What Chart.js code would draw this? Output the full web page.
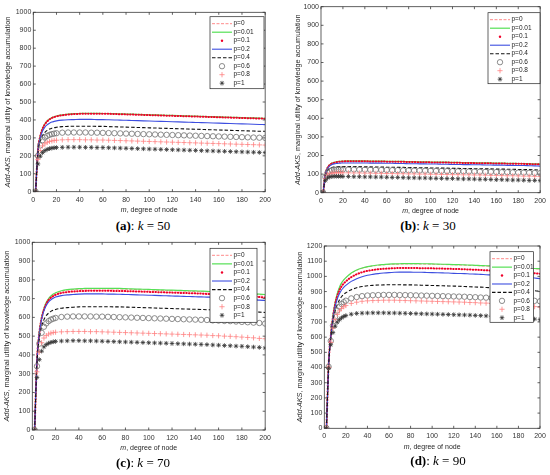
<!DOCTYPE html>
<html>
<head>
<meta charset="utf-8">
<script src="https://cdn.jsdelivr.net/npm/chart.js@4.4.1/dist/chart.umd.min.js"></script>
<style>
body { margin: 0; background: #fff; width: 550px; height: 475px; position: relative; overflow: hidden; }
.panel { position: absolute; }
.cap { position: absolute; font-family: "Liberation Serif", "Times New Roman", serif; font-size: 13px; color: #000; white-space: nowrap; transform: translateX(-50%); }
</style>
</head>
<body>
<div class="panel" style="left:0;top:0;width:275px;height:218px"><canvas id="ca"></canvas></div>
<div class="panel" style="left:275px;top:0;width:275px;height:218px"><canvas id="cb"></canvas></div>
<div class="panel" style="left:0;top:235px;width:275px;height:222px"><canvas id="cc"></canvas></div>
<div class="panel" style="left:275px;top:235px;width:275px;height:222px"><canvas id="cd"></canvas></div>
<div class="cap" style="left:143px;top:218px"><b>(a)</b>: <i>k</i> = 50</div>
<div class="cap" style="left:428px;top:218px"><b>(b)</b>: <i>k</i> = 30</div>
<div class="cap" style="left:143px;top:455px"><b>(c)</b>: <i>k</i> = 70</div>
<div class="cap" style="left:438px;top:453px"><b>(d)</b>: <i>k</i> = 90</div>
<script>
// m, degree of node
const m = [2,4,6,8,10,12,14,16,18,20,25,30,35,40,45,50,55,60,65,70,75,80,85,90,95,100,105,110,115,120,125,130,135,140,145,150,155,160,165,170,175,180,185,190,195,200];
const labels = ['p=0','p=0.01','p=0.1','p=0.2','p=0.4','p=0.6','p=0.8','p=1'];

// (a) k = 50
const k50_p0   = [0,232,310,352,377,393,404,412,417,421, 427,431,434,435,436,436,436,435,435,434, 433,432,431,430,429,428,427,426,425,424, 423,422,421,420,419,418,417,416,415,414, 413,412,411,410,409,408];
const k50_p001 = [0,233,311,353,378,394,405,413,418,422, 428,432,435,436,437,437,437,436,436,435, 434,433,432,431,430,429,428,427,426,425, 424,423,422,421,420,419,418,417,416,415, 414,413,412,411,410,409];
const k50_p01  = [0,231,309,351,376,392,403,411,416,420, 426,430,433,434,435,435,435,434,434,433, 432,431,430,429,428,427,426,425,424,423, 422,421,420,419,418,417,416,415,414,413, 412,411,410,409,408,407];
const k50_p02  = [0,228,300,338,360,373,382,388,392,395, 399,401,402,403,403,403,402,402,401,400, 399,398,397,396,395,394,393,392,391,390, 389,388,387,386,385,384,383,382,381,380, 379,378,377,376,375,374];
const k50_p04  = [0,215,280,313,331,342,349,354,357,359, 363,364,365,365,365,365,364,364,363,362, 361,360,359,358,357,356,355,354,353,352, 351,350,349,348,347,346,345,344,343,342, 341,340,339,338,337,337];
const k50_p06  = [0,200,258,287,302,311,317,321,324,326, 329,330,330,330,330,329,329,328,327,326, 325,324,323,322,321,320,319,318,317,316, 315,314,313,312,311,310,309,308,307,306, 305,304,303,302,301,300];
const k50_p08  = [0,180,230,255,267,275,280,283,286,287, 289,290,290,290,289,289,288,288,287,286, 285,284,283,282,281,280,279,278,277,276, 275,274,273,272,271,270,269,268,267,266, 265,264,263,262,261,260];
const k50_p1   = [0,155,198,218,229,236,240,243,245,246, 247,248,248,248,247,247,246,246,245,244, 243,242,241,240,239,238,237,236,235,234, 233,232,231,230,229,228,227,226,225,224, 223,222,221,220,219,218];

// (b) k = 30
const k30_p0   = [0,100,135,150,158,162,165,167,168,169, 170,170,170,170,169,169,169,168,168,167, 167,166,166,165,165,164,164,163,163,162, 162,161,161,160,160,159,159,158,158,157, 157,156,156,155,154,153];
const k30_p001 = [0,101,136,151,159,163,166,168,169,170, 171,171,171,171,170,170,170,169,169,168, 168,167,167,166,166,165,165,164,164,163, 163,162,162,161,161,160,160,159,159,158, 158,157,157,156,155,154];
const k30_p01  = [0,99,134,149,157,161,164,166,167,168, 169,169,169,169,168,168,168,167,167,166, 166,165,165,164,164,163,163,162,162,161, 161,160,160,159,159,158,158,157,157,156, 156,155,155,154,153,152];
const k30_p02  = [0,98,130,144,151,155,157,158,159,160, 160,160,160,160,159,159,159,158,158,157, 157,156,156,155,155,154,154,153,153,152, 152,151,151,150,150,149,149,148,148,147, 147,146,146,145,144,143];
const k30_p04  = [0,92,120,131,136,138,139,140,140,140, 140,140,140,139,139,138,138,137,137,136, 136,135,135,134,134,133,133,132,132,131, 131,130,130,129,129,128,128,127,127,126, 126,125,124,124,123,122];
const k30_p06  = [0,85,108,117,121,123,124,125,125,125, 125,125,124,124,123,123,122,122,121,121, 120,120,119,119,118,118,117,117,116,116, 115,115,114,114,113,112,112,111,110,110, 109,108,108,107,106,105];
const k30_p08  = [0,75,95,102,105,106,107,107,107,107, 107,106,106,105,105,104,104,103,103,102, 102,101,101,100,100,99,99,98,98,97, 97,96,96,95,95,94,93,93,92,91, 91,90,89,89,88,87];
const k30_p1   = [0,65,80,85,87,88,88,88,88,87, 87,86,86,85,85,84,84,83,82,82, 81,80,80,79,79,78,77,77,76,76, 75,74,74,73,72,72,71,70,70,69, 68,68,67,66,66,65];

// (c) k = 70
const k70_p0   = [0,369,518,598,645,677,697,711,721,728, 739,745,748,750,751,752,752,752,752,751, 751,750,749,748,747,746,745,744,743,742, 741,740,739,738,737,736,734,733,731,730, 728,726,725,723,721,719];
const k70_p001 = [0,370,520,600,648,680,700,714,724,731, 742,748,751,753,754,755,755,755,755,754, 754,753,752,751,750,749,748,747,746,745, 744,743,742,741,740,739,737,736,734,733, 731,729,728,726,724,722];
const k70_p01  = [0,368,515,595,642,672,692,705,714,720, 730,735,738,740,741,742,742,742,742,741, 741,740,739,738,737,736,735,734,733,732, 731,730,729,728,727,725,724,722,721,719, 718,716,714,712,709,706];
const k70_p02  = [0,365,512,590,635,663,682,694,702,708, 716,720,722,724,725,725,725,725,724,724, 723,722,721,720,719,718,717,716,715,714, 713,712,711,710,709,708,707,705,704,702, 701,699,697,695,692,690];
const k70_p04  = [0,355,485,550,588,610,623,632,638,642, 649,652,654,656,657,657,657,657,657,656, 656,655,654,653,652,651,650,649,648,647, 646,645,644,643,642,641,640,639,638,636, 635,634,632,630,628,626];
const k70_p06  = [0,340,460,518,550,568,580,588,593,597, 602,604,605,605,605,605,604,604,603,602, 601,600,599,598,597,596,595,594,593,592, 591,590,589,588,587,586,584,583,581,580, 578,576,574,572,570,567];
const k70_p08  = [0,310,415,465,490,503,511,516,519,521, 523,524,525,525,525,524,524,523,522,521, 520,519,518,517,516,515,514,513,512,511, 510,509,508,507,506,505,503,502,500,499, 497,495,493,491,488,486];
const k70_p1   = [0,280,375,420,443,455,462,467,470,472, 474,475,476,476,475,475,474,473,472,471, 470,469,468,467,466,465,464,463,462,461, 460,459,458,457,456,455,453,452,450,449, 447,446,444,442,440,437];

// (d) k = 90
const k90_p0   = [0,420,610,740,825,885,925,955,975,990, 1020,1040,1053,1062,1068,1073,1076,1079,1080,1081, 1082,1082,1082,1081,1081,1080,1079,1078,1077,1076, 1075,1074,1072,1071,1069,1068,1066,1064,1062,1061, 1059,1057,1055,1053,1050,1048];
const k90_p001 = [0,421,612,742,827,887,927,957,977,992, 1022,1042,1055,1064,1070,1075,1078,1081,1082,1083, 1084,1084,1084,1083,1083,1082,1081,1080,1079,1078, 1077,1076,1074,1073,1071,1070,1068,1066,1064,1063, 1061,1059,1057,1055,1052,1050];
const k90_p01  = [0,418,605,730,815,870,908,935,953,967, 995,1014,1027,1036,1042,1047,1050,1052,1054,1055, 1055,1055,1055,1054,1054,1053,1052,1051,1050,1049, 1048,1047,1045,1044,1042,1040,1038,1036,1034,1032, 1030,1028,1026,1023,1021,1018];
const k90_p02  = [0,415,600,720,800,850,885,910,928,941, 967,985,998,1007,1013,1018,1022,1025,1027,1028, 1028,1028,1027,1027,1026,1025,1024,1023,1022,1020, 1019,1018,1016,1015,1013,1011,1009,1007,1005,1003, 1001,998,996,993,989,985];
const k90_p04  = [0,410,590,700,770,815,845,866,881,892, 912,925,933,938,941,943,944,945,945,945, 944,944,943,942,941,940,939,938,937,936, 935,933,932,930,929,927,925,923,921,919, 917,914,912,909,906,902];
const k90_p06  = [0,405,575,675,735,775,800,818,830,840, 855,864,870,874,876,877,878,878,878,877, 877,876,875,874,873,872,871,870,869,868, 867,866,864,863,861,860,858,856,854,852, 850,848,845,842,839,836];
const k90_p08  = [0,400,565,660,715,750,773,789,800,808, 822,830,836,839,841,842,843,843,843,842, 841,840,839,838,837,836,835,834,833,832, 831,830,828,827,825,824,822,820,818,816, 814,811,808,805,801,797];
const k90_p1   = [0,395,550,630,672,698,715,727,736,742, 751,756,758,759,760,760,760,759,759,758, 757,756,755,754,753,752,751,750,749,748, 747,746,745,743,742,740,738,736,734,732, 730,728,726,723,719,715];

const sans = '"Liberation Sans", Arial, sans-serif';

// how each p is drawn (matlab-ish line specs)
const styles = [
  { kind: 'line', color: '#ff8a8a', width: 1, dash: [3, 1.5] },
  { kind: 'line', color: '#55e055', width: 1.2, dash: [] },
  { kind: 'dots', color: '#f0002a', width: 2, dash: [0.5, 2.3] },
  { kind: 'line', color: '#3d4ee0', width: 1.1, dash: [] },
  { kind: 'line', color: '#111', width: 1.1, dash: [3.5, 2] },
  { kind: 'mark', color: '#707070', style: 'circle', r: 2.7 },
  { kind: 'mark', color: '#ff8080', style: 'cross', r: 2.6 },
  { kind: 'mark', color: '#333', style: 'star', r: 2.3 }
];

function makeDatasets(series) {
  return series.map((arr, i) => {
    const s = styles[i];
    const ds = {
      label: labels[i],
      data: m.map((x, j) => ({ x: x, y: arr[j] })),
      order: 8 - i,
      cubicInterpolationMode: 'monotone',
      borderColor: s.color,
      backgroundColor: 'transparent'
    };
    if (s.kind === 'mark') {
      ds.showLine = false;
      ds.pointStyle = s.style;
      ds.pointRadius = s.r;
      ds.pointBorderWidth = 0.8;
      ds.pointBorderColor = s.color;
    } else {
      ds.borderWidth = s.width;
      ds.borderDash = s.dash;
      ds.pointRadius = 0;
      if (s.kind === 'dots') ds.borderCapStyle = 'round';
    }
    return ds;
  });
}

const framePlugin = {
  id: 'frame',
  afterDatasetsDraw(chart, args, opts) {
    const ctx = chart.ctx, a = chart.chartArea;
    const xs = chart.scales.x, ys = chart.scales.y;
    ctx.save();
    ctx.strokeStyle = '#3a3a3a';
    ctx.lineWidth = 0.8;
    ctx.setLineDash([]);
    ctx.strokeRect(a.left, a.top, a.right - a.left, a.bottom - a.top);
    ctx.beginPath();
    xs.ticks.forEach(t => {
      const px = xs.getPixelForValue(t.value);
      ctx.moveTo(px, a.bottom); ctx.lineTo(px, a.bottom - 2.5);
      ctx.moveTo(px, a.top); ctx.lineTo(px, a.top + 2.5);
    });
    ys.ticks.forEach(t => {
      const py = ys.getPixelForValue(t.value);
      ctx.moveTo(a.left, py); ctx.lineTo(a.left + 2.5, py);
      ctx.moveTo(a.right, py); ctx.lineTo(a.right - 2.5, py);
    });
    ctx.stroke();

    // legend box
    const g = opts.leg;
    ctx.fillStyle = '#fff';
    ctx.fillRect(g.x, g.y, g.w, g.h);
    ctx.strokeStyle = '#222';
    ctx.lineWidth = 0.7;
    ctx.strokeRect(g.x, g.y, g.w, g.h);
    ctx.font = '6.5px ' + sans;
    ctx.textBaseline = 'middle';
    styles.forEach((s, i) => {
      const cy = g.y + 7 + i * g.step;
      const x0 = g.x + 2, x1 = g.x + 22, cx = (x0 + x1) / 2;
      if (s.kind === 'line') {
        ctx.strokeStyle = s.color;
        ctx.lineWidth = s.width;
        ctx.setLineDash(s.dash);
        ctx.beginPath(); ctx.moveTo(x0, cy); ctx.lineTo(x1, cy); ctx.stroke();
        ctx.setLineDash([]);
      } else if (s.kind === 'dots') {
        ctx.fillStyle = s.color;
        ctx.beginPath(); ctx.arc(cx, cy, 1.2, 0, Math.PI * 2); ctx.fill();
      } else {
        ctx.strokeStyle = s.color;
        ctx.fillStyle = 'transparent';
        ctx.lineWidth = 0.8;
        Chart.helpers.drawPoint(ctx, { pointStyle: s.style, radius: s.r, rotation: 0, borderWidth: 0.8 }, cx, cy);
      }
      ctx.fillStyle = '#222';
      ctx.textAlign = 'left';
      ctx.fillText(labels[i], g.x + 23.5, cy);
    });
    ctx.restore();
  },
  afterDraw(chart, args, opts) {
    const ctx = chart.ctx, a = chart.chartArea;
    ctx.save();
    ctx.fillStyle = '#262626';
    ctx.textBaseline = 'middle';
    ctx.textAlign = 'left';
    // x title
    const it = 'italic 7px ' + sans, nm = '7px ' + sans;
    ctx.font = it; const w1 = ctx.measureText('m').width;
    ctx.font = nm; const w2 = ctx.measureText(', degree of node').width;
    let x = (a.left + a.right) / 2 - (w1 + w2) / 2;
    const y = a.bottom + 18.5;
    ctx.font = it; ctx.fillText('m', x, y);
    ctx.font = nm; ctx.fillText(', degree of node', x + w1, y);
    // y title
    const yi = 'italic 7.3px ' + sans, yn = '7.3px ' + sans;
    ctx.font = yi; const v1 = ctx.measureText('Add-AKS').width;
    ctx.font = yn; const v2 = ctx.measureText(', marginal utility of knowledge accumulation').width;
    ctx.translate(opts.ytx, (a.top + a.bottom) / 2);
    ctx.rotate(-Math.PI / 2);
    const sx = -(v1 + v2) / 2;
    ctx.font = yi; ctx.fillText('Add-AKS', sx, 0);
    ctx.font = yn; ctx.fillText(', marginal utility of knowledge accumulation', sx + v1, 0);
    ctx.restore();
  }
};

const panels = [
  { id: 'ca', ymax: 1000, L: 33.3, R: 265.7, T: 12.3, B: 191.7, H: 218, ytx: 8.3,
    leg: { x: 210, y: 16.7, w: 54, h: 72, step: 8.5 },
    series: [k50_p0, k50_p001, k50_p01, k50_p02, k50_p04, k50_p06, k50_p08, k50_p1] },
  { id: 'cb', ymax: 1000, L: 46, R: 265.7, T: 6.7, B: 192.7, H: 218, ytx: 23,
    leg: { x: 213, y: 12.7, w: 52, h: 71, step: 8.5 },
    series: [k30_p0, k30_p001, k30_p01, k30_p02, k30_p04, k30_p06, k30_p08, k30_p1] },
  { id: 'cc', ymax: 1000, L: 32.3, R: 265.7, T: 7.3, B: 195, H: 222, ytx: 6.7,
    leg: { x: 210, y: 13.3, w: 47, h: 74, step: 8.57 },
    series: [k70_p0, k70_p001, k70_p01, k70_p02, k70_p04, k70_p06, k70_p08, k70_p1] },
  { id: 'cd', ymax: 1200, L: 49.3, R: 265, T: 11, B: 193.3, H: 222, ytx: 25,
    leg: { x: 215, y: 16.7, w: 43.5, h: 70.6, step: 8.43 },
    series: [k90_p0, k90_p001, k90_p01, k90_p02, k90_p04, k90_p06, k90_p08, k90_p1] }
];

const charts = panels.map(p => new Chart(document.getElementById(p.id).getContext('2d'), {
  type: 'line',
  data: { datasets: makeDatasets(p.series) },
  options: {
    responsive: true,
    maintainAspectRatio: false,
    animation: false,
    layout: { padding: { left: 0, top: p.T, right: 275 - p.R, bottom: 0 } },
    plugins: {
      legend: { display: false },
      tooltip: { enabled: false },
      frame: { leg: p.leg, ytx: p.ytx }
    },
    scales: {
      x: {
        type: 'linear', min: 0, max: 200,
        ticks: { stepSize: 20, font: { size: 7, family: sans }, color: '#333', padding: 4, maxRotation: 0, callback: v => String(v) },
        grid: { display: false, drawTicks: false },
        border: { display: false },
        afterFit: s => { s.height = p.H - p.B; }
      },
      y: {
        type: 'linear', min: 0, max: p.ymax,
        ticks: { stepSize: 100, font: { size: 7, family: sans }, color: '#333', padding: 2, callback: v => String(v) },
        grid: { display: false, drawTicks: false },
        border: { display: false },
        afterFit: s => { s.width = p.L; }
      }
    }
  },
  plugins: [framePlugin]
}));
</script>
</body>
</html>
